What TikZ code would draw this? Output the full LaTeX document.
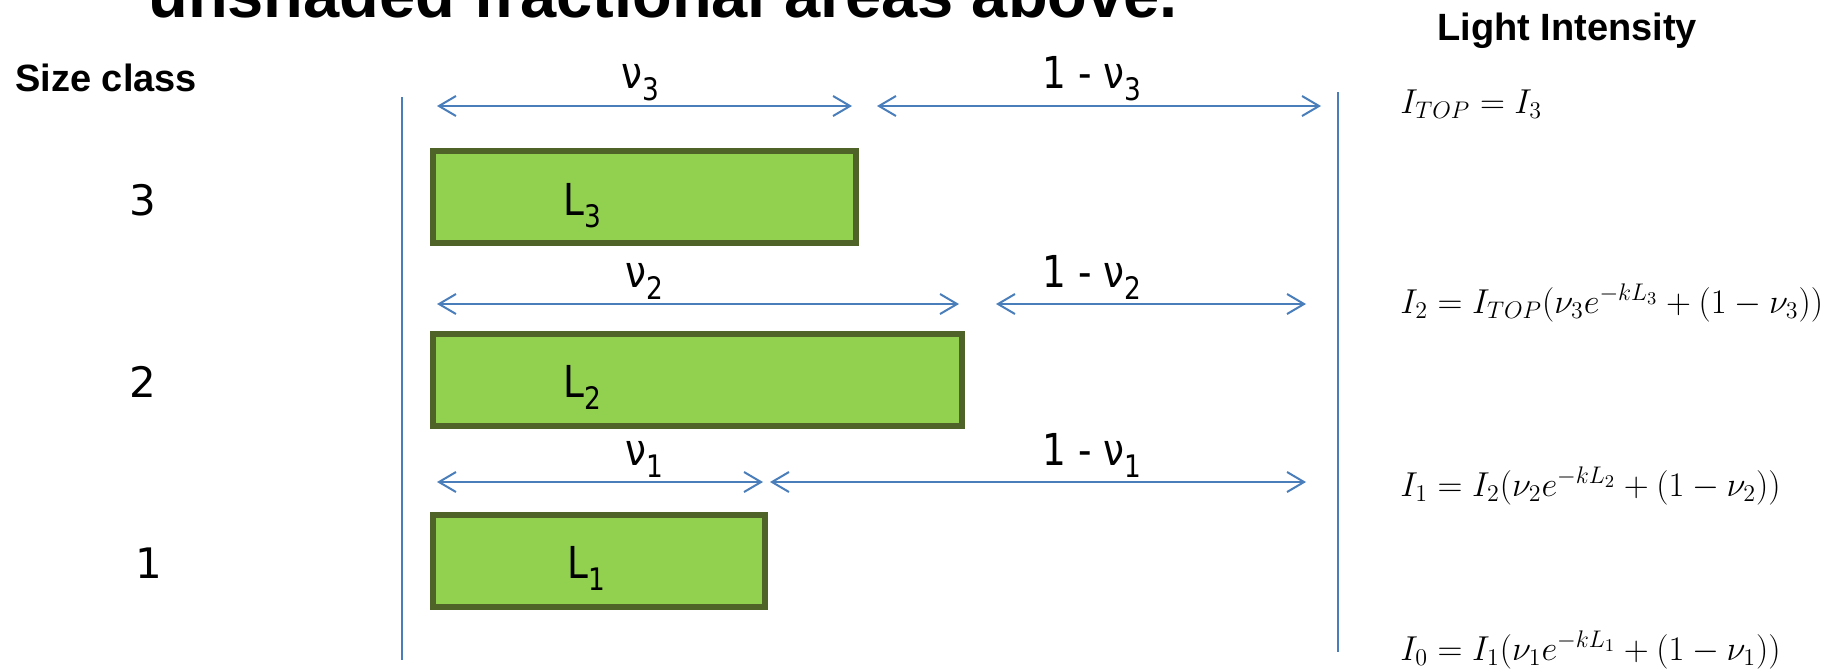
\documentclass[tikz,border=0pt]{standalone}
\usepackage[no-math]{fontspec}
\setmainfont{Liberation Sans}
\newfontfamily\labfont[FakeStretch=0.85]{DejaVu Sans}
\newfontfamily\numfont{DejaVu Sans}
\usetikzlibrary{arrows.meta}
\definecolor{lineblue}{HTML}{4A7EBB}
\definecolor{barfill}{HTML}{92D050}
\definecolor{barline}{HTML}{4F6228}
\newcommand\subdig[1]{\raisebox{-6pt}{\fontsize{15.5}{15.5}\selectfont #1}}
\tikzset{
  >={Straight Barb[length=8.5pt,width=10pt]},
  dimline/.style={draw=lineblue, line width=1pt, <->},
  edgeline/.style={draw=lineblue, line width=1pt},
  barbox/.style={draw=barline, fill=barfill, line width=3pt, anchor=north west, minimum height=46pt, inner sep=0pt},
  lab/.style={font=\labfont\fontsize{22}{24}\selectfont, inner sep=0pt, anchor=base west},
  sizenum/.style={font=\numfont\fontsize{21}{24}\selectfont, inner sep=0pt, anchor=base},
  head/.style={font=\bfseries\fontsize{19}{22}\selectfont, inner sep=0pt, anchor=base west},
  formula/.style={font=\fontsize{17.25}{20}\selectfont, inner sep=0pt, anchor=base west},
}
\begin{document}
\begin{tikzpicture}[x=0.5pt, y=-0.5pt]
\useasboundingbox (0,0) rectangle (1840,671);
% title (cut off at top)
\node[font=\bfseries\fontsize{32.5}{36}\selectfont, inner sep=0pt, anchor=base west] (title) at (148,17) {unshaded fractional areas above.};
\node[head] (light) at (1437,40) {Light Intensity};
\node[head] (size) at (15,91) {Size class};
% size class numbers
\node[sizenum] (n3) at (143,215) {3};
\node[sizenum] (n2) at (143,397) {2};
\node[sizenum] (n1) at (149,578) {1};
% vertical boundary lines
\coordinate (vl1) at (402,97);
\coordinate (vl2) at (402,660);
\coordinate (vr1) at (1338,92);
\coordinate (vr2) at (1338,652);
\draw[edgeline] (vl1) -- (vl2);
\draw[edgeline] (vr1) -- (vr2);
% bars
\node[barbox, minimum width=211.5pt] (b3) at (430,148) {};
\node[barbox, minimum width=264.5pt] (b2) at (430,331) {};
\node[barbox, minimum width=166pt] (b1) at (430,512) {};
\node[lab] (t3) at (563,215) {L\subdig{3}};
\node[lab] (t2) at (563,397) {L\subdig{2}};
\node[lab] (t1) at (567,578) {L\subdig{1}};
% dimension arrows
\coordinate (a3a) at (437,106); \coordinate (a3b) at (852,106);
\coordinate (a3c) at (877,106); \coordinate (a3d) at (1321,106);
\coordinate (a2a) at (437,304); \coordinate (a2b) at (959,304);
\coordinate (a2c) at (996,304); \coordinate (a2d) at (1306,304);
\coordinate (a1a) at (437,482); \coordinate (a1b) at (763,482);
\coordinate (a1c) at (770,482); \coordinate (a1d) at (1306,482);
\draw[dimline] (a3a) -- (a3b);
\draw[dimline] (a3c) -- (a3d);
\draw[dimline] (a2a) -- (a2b);
\draw[dimline] (a2c) -- (a2d);
\draw[dimline] (a1a) -- (a1b);
\draw[dimline] (a1c) -- (a1d);
% labels
\node[lab] (v3) at (621,88) {ν\subdig{3}};
\node[lab] (w3) at (1042,88) {1 - ν\subdig{3}};
\node[lab] (v2) at (625,287) {ν\subdig{2}};
\node[lab] (w2) at (1042,287) {1 - ν\subdig{2}};
\node[lab] (v1) at (625,465) {ν\subdig{1}};
\node[lab] (w1) at (1042,465) {1 - ν\subdig{1}};
% formulas
\node[formula] (f3) at (1400,113) {$I_{TOP} = I_3$};
\node[formula] (f2) at (1400,313) {$I_2 = I_{TOP}(\nu_3 e^{-kL_3} + (1-\nu_3))$};
\node[formula] (f1) at (1400,496) {$I_1 = I_2(\nu_2 e^{-kL_2} + (1-\nu_2))$};
\node[formula] (f0) at (1400,660) {$I_0 = I_1(\nu_1 e^{-kL_1} + (1-\nu_1))$};
\end{tikzpicture}
\end{document}
